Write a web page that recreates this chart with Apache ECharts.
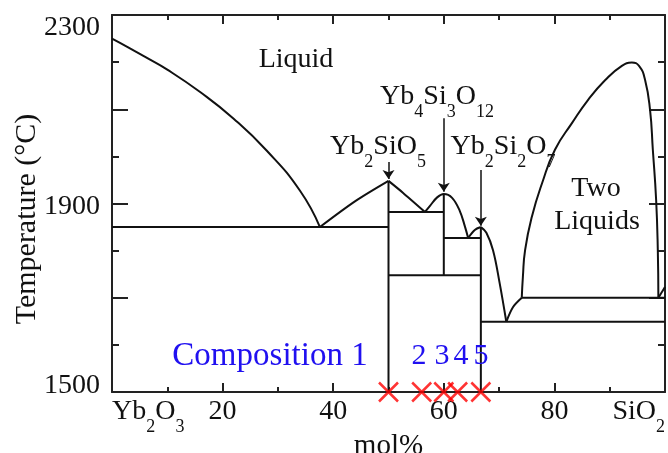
<!DOCTYPE html>
<html>
<head>
<meta charset="utf-8">
<script src="https://cdn.jsdelivr.net/npm/echarts@6/dist/echarts.min.js"></script>
<style>
html, body { margin: 0; padding: 0; background: #fff; }
#chart { width: 668px; height: 453px; }
</style>
</head>
<body>
<div id="chart"></div>
<script>
// axis ticks / labels
var xLabelValues = [0, 20, 40, 60, 80, 100];
var yLabelValues = [1500, 1900, 2300];

// liquidus branches, [mol% SiO2, temperature °C]
var liqYb2O3 = [[0, 2250], [3, 2231], [6, 2211], [10, 2184], [16, 2136], [22, 2080], [28, 2012], [34, 1927], [37.6, 1850]];
var liqToYb2SiO5 = [[37.6, 1850], [44, 1905], [50, 1948]];
var liqFromYb2SiO5 = [[50, 1948], [52.6, 1923], [56.6, 1882]];
var liqYb4Si3O12 = [[56.6, 1882], [57.5, 1895], [58.8, 1913], [60, 1920], [61.5, 1912], [62.9, 1884], [63.8, 1852], [64.4, 1827]];
var liqToYb2Si2O7 = [[64.4, 1827], [65.6, 1844], [66.7, 1850]];
var liqFromYb2Si2O7 = [[66.7, 1850], [67.7, 1838], [68.9, 1801], [70.1, 1731], [71.3, 1649]];
var liqToMonotectic = [[71.3, 1649], [72.5, 1680], [74.1, 1700]];
var miscibilityGap = [[74.1, 1700], [74.3, 1744], [74.7, 1801], [75.9, 1871], [77.8, 1944], [80.1, 2014], [83.2, 2071],
  [86.1, 2120], [89.2, 2162], [92.2, 2192], [94, 2199], [95.3, 2192], [96.4, 2162], [97.3, 2098], [97.8, 2014],
  [98.4, 1907], [98.7, 1801], [98.8, 1700]];
var liqSiO2 = [[98.8, 1700], [100, 1723]];

// invariant lines and compound lines
var tie1850 = [[0, 1850], [50, 1850]];
var tie1882 = [[50, 1882], [60, 1882]];
var tie1827 = [[60, 1827], [66.7, 1827]];
var tie1748 = [[50, 1748], [66.7, 1748]];
var tie1649 = [[66.7, 1649], [100, 1649]];
var tie1700 = [[74.1, 1700], [100, 1700]];
var lineYb2SiO5 = [[50, 1948], [50, 1500]];
var lineYb4Si3O12 = [[60, 1920], [60, 1748]];
var lineYb2Si2O7 = [[66.7, 1850], [66.7, 1500]];

// arrows to compounds [x, from T, to T]
var arrows = [[50, 1988, 1952], [60, 2081, 1925], [66.7, 1971, 1853]];

// studied compositions
var compositions = [50, 56, 60, 62.5, 66.7];
var compositionTemp = 1500;

var FONT = '"Liberation Serif", "Times New Roman", serif';
var INK = '#111';
var BLUE = '#2010f0';

var chart = echarts.init(document.getElementById('chart'));

var sub = {
  n: { fontSize: 28, fontFamily: FONT, color: INK, lineHeight: 30, verticalAlign: 'top' },
  s: { fontSize: 18, fontFamily: FONT, color: INK, lineHeight: 38, verticalAlign: 'bottom', padding: [19, 0, 0, 0] }
};

function curve(data, smooth) {
  return {
    type: 'line', data: data, smooth: smooth || false, showSymbol: false, silent: true,
    animation: false, clip: false, z: 3,
    lineStyle: { color: INK, width: 2 }
  };
}

function frameAxis(pos, isX) {
  return {
    type: 'value', position: pos,
    min: isX ? 0 : 1500, max: isX ? 100 : 2300, interval: isX ? 20 : 200,
    axisLine: { show: true, onZero: false, lineStyle: { color: '#222', width: 2 } },
    axisTick: { show: true, inside: true, length: isX ? 9 : 16, lineStyle: { color: '#222', width: 2 } },
    minorTick: { show: true, splitNumber: 2, length: isX ? 5 : 7, lineStyle: { color: '#222', width: 2 } },
    splitLine: { show: false },
    axisLabel: { show: false }
  };
}

var xBottom = frameAxis('bottom', true);
xBottom.axisLabel = {
  show: true, margin: 6, fontSize: 28, fontFamily: FONT, color: INK,
  alignMinLabel: 'left', alignMaxLabel: 'right', hideOverlap: false,
  formatter: function (v) {
    if (xLabelValues.indexOf(v) < 0) return '';
    if (v === 0) return '{n|Yb}{s|2}{n|O}{s|3}';
    if (v === 100) return '{n|SiO}{s|2}';
    return '{n|' + v + '}';
  },
  rich: sub
};
xBottom.name = 'mol%';
xBottom.nameLocation = 'middle';
xBottom.nameGap = 40;
xBottom.nameMoveOverlap = false;
xBottom.nameTextStyle = { fontSize: 29, fontFamily: FONT, color: INK };

var yLeft = frameAxis('left', false);
yLeft.axisLabel = {
  show: true, margin: 12, fontSize: 28, fontFamily: FONT, color: INK, hideOverlap: false,
  formatter: function (v) {
    if (yLabelValues.indexOf(v) < 0) return '';
    if (v === 2300) return '{hi|' + v + '}';
    if (v === 1500) return '{lo|' + v + '}';
    return '{m|' + v + '}';
  },
  rich: {
    m: { fontSize: 28, fontFamily: FONT, color: INK, padding: [6, 0, 0, 0] },
    hi: { fontSize: 28, fontFamily: FONT, color: INK, padding: [26, 0, 0, 0] },
    lo: { fontSize: 28, fontFamily: FONT, color: INK, padding: [0, 0, 12, 0] }
  }
};

var series = [
  curve(liqYb2O3, 0.5),
  curve(liqToYb2SiO5, 0.3),
  curve(liqFromYb2SiO5, 0.2),
  curve(liqYb4Si3O12, 0.4),
  curve(liqToYb2Si2O7, 0.3),
  curve(liqFromYb2Si2O7, 0.4),
  curve(liqToMonotectic, 0.3),
  curve(miscibilityGap, 0.5),
  curve(liqSiO2),
  curve(tie1850), curve(tie1882), curve(tie1827), curve(tie1748), curve(tie1649), curve(tie1700),
  curve(lineYb2SiO5), curve(lineYb4Si3O12), curve(lineYb2Si2O7)
];

series[series.length - 1].markLine = {
  silent: true, animation: false,
  symbol: ['none', 'arrow'], symbolSize: 9,
  label: { show: false },
  lineStyle: { color: INK, width: 1.5, type: 'solid' },
  data: arrows.map(function (a) { return [{ coord: [a[0], a[1]] }, { coord: [a[0], a[2]] }]; })
};

series.push({
  type: 'scatter', silent: true, animation: false, clip: false, z: 5,
  symbol: 'path://M0,0L10,10M10,0L0,10', symbolSize: 19,
  itemStyle: { color: 'rgba(0,0,0,0)', borderColor: '#ff0000', borderWidth: 2.5 },
  data: compositions.map(function (c) { return [c, compositionTemp]; })
});

function txt(text, x, y, size, color, rich) {
  var st = {
    text: text, x: x, y: y,
    font: size + 'px ' + FONT, fill: color || INK,
    align: 'center', textAlign: 'center',
    verticalAlign: rich ? 'top' : 'middle', textVerticalAlign: rich ? 'top' : 'middle'
  };
  if (rich) st.rich = rich;
  return { type: 'text', silent: true, z: 10, style: st };
}

var graphics = [
  txt('Liquid', 296, 60, 28),
  txt('{n|Yb}{s|4}{n|Si}{s|3}{n|O}{s|12}', 437, 83, 28, INK, sub),
  txt('{n|Yb}{s|2}{n|SiO}{s|5}', 378, 133, 28, INK, sub),
  txt('{n|Yb}{s|2}{n|Si}{s|2}{n|O}{s|7}', 503, 133, 28, INK, sub),
  txt('Two', 596, 189, 28),
  txt('Liquids', 597, 222, 28),
  txt('Composition 1', 270, 356, 33, BLUE),
  txt('2', 419, 356, 30, BLUE),
  txt('3', 442, 356, 30, BLUE),
  txt('4', 461, 356, 30, BLUE),
  txt('5', 481, 356, 30, BLUE),
  {
    type: 'text', silent: true, z: 10, rotation: Math.PI / 2, x: 27, y: 219,
    style: { text: 'Temperature (°C)', font: '30px ' + FONT, fill: INK,
      align: 'center', textAlign: 'center', verticalAlign: 'middle', textVerticalAlign: 'middle' }
  }
];

chart.setOption({
  animation: false,
  backgroundColor: '#fff',
  grid: { left: 112, right: 3, top: 15, bottom: 61, containLabel: false, outerBoundsMode: 'none' },
  xAxis: [xBottom, frameAxis('top', true)],
  yAxis: [yLeft, frameAxis('right', false)],
  series: series,
  graphic: graphics
});
</script>
</body>
</html>
